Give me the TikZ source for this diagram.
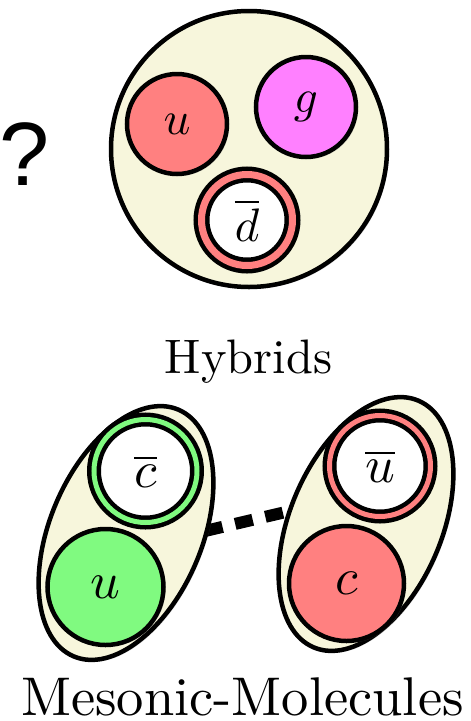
\documentclass[tikz,border=0pt]{standalone}
\usepackage{fontspec}
\usepackage{graphicx}
\newfontfamily\qmarkfont{Liberation Sans}
\usetikzlibrary{shapes.geometric,shadows}
\definecolor{bagfill}{RGB}{247,246,220}
\definecolor{qred}{RGB}{255,128,128}
\definecolor{qgreen}{RGB}{128,250,128}
\definecolor{qpink}{RGB}{255,128,255}
\newcommand{\toplbl}[1]{\scalebox{4.7}{$#1$}}
\newcommand{\botlbl}[1]{\scalebox{5.2}{$#1$}}

\begin{document}
\begin{tikzpicture}[x=1pt,y=1pt,
 softshadow/.style={drop shadow={shadow xshift=2pt,shadow yshift=-2pt,opacity=.25}},
 bag/.style={draw,line width=4.5pt,fill=bagfill,inner sep=0pt,softshadow},
 quark/.style={circle,draw,line width=4.5pt,fill=#1,inner sep=0pt,softshadow},
 antiquark/.style={circle,draw,line width=4.5pt,fill=white,double=#1,double distance=5pt,inner sep=0pt,softshadow},
 caption/.style={anchor=base,inner sep=0pt},
 bond/.style={line width=12pt,dash pattern=on 18pt off 13pt}]
\useasboundingbox (0,0) rectangle (471,-721);
% hybrid meson
\node[bag,circle,minimum size=276pt] (hybrid) at (249,-149) {};
\node[quark=qred,minimum size=100pt] (hu) at (177,-124) {\toplbl{u}};
\node[quark=qpink,minimum size=100pt] (hg) at (306,-107) {\toplbl{g}};
\node[antiquark=qred,double distance=7pt,minimum size=91pt] (hdbar) at (247,-220) {\toplbl{\overline{d}}};
\node[font=\qmarkfont\fontsize{90}{90}\selectfont,anchor=base,inner sep=0pt] (qmark) at (25,-185) {?};
\node[caption] (hyblbl) at (248.5,-373) {\scalebox{4.84}{Hybrids}};
% mesonic molecule
\coordinate (bondL) at (205,-531);
\coordinate (bondR) at (290,-511);
\draw[bond] (bondL) -- (bondR);
\node[bag,ellipse,rotate=67,minimum width=268pt,minimum height=152pt] (molL) at (126,-533) {};
\node[bag,ellipse,rotate=67,minimum width=268pt,minimum height=152pt] (molR) at (366,-524) {};
\node[antiquark=qgreen,minimum size=103pt] (mcbar) at (145.5,-471) {\botlbl{\overline{c}}};
\node[quark=qgreen,minimum size=116pt] (mu) at (105.5,-587) {\botlbl{u}};
\node[antiquark=qred,minimum size=101pt] (mubar) at (380,-466) {\botlbl{\overline{u}}};
\node[quark=qred,minimum size=115pt] (mc) at (346.5,-583.5) {\botlbl{c}};
\node[caption] (mollbl) at (242.5,-715) {\scalebox{5.45}{Mesonic-Molecules}};
\end{tikzpicture}
\end{document}
